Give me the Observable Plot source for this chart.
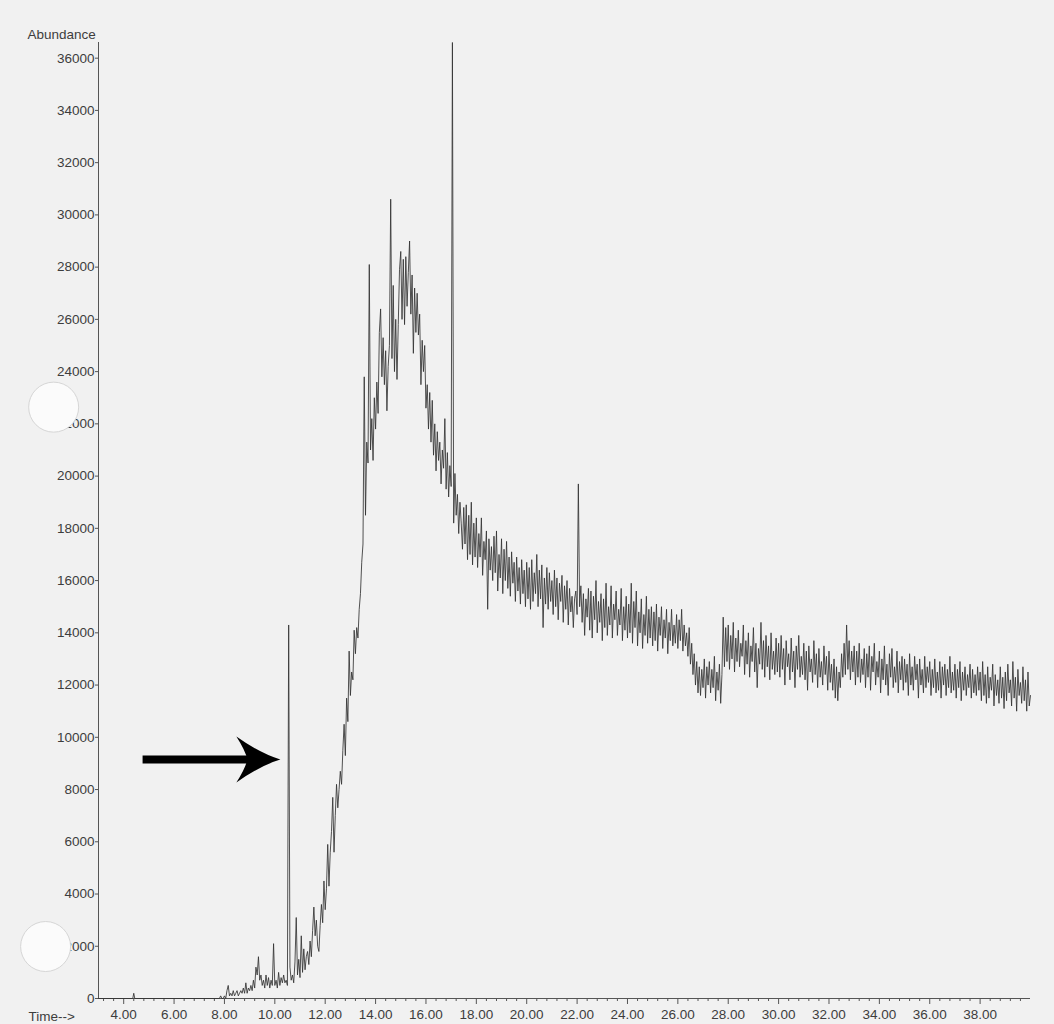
<!DOCTYPE html>
<html>
<head>
<meta charset="utf-8">
<script src="https://cdn.jsdelivr.net/npm/d3@7"></script>
<script src="https://cdn.jsdelivr.net/npm/@observablehq/plot@0.6"></script>
<style>
  html, body { margin: 0; padding: 0; background: #f1f1f1; }
  #chart svg { display: block; }
</style>
</head>
<body>
<div id="chart"></div>
<script>
// ---- axis ticks ----
const timeTicks = [4, 6, 8, 10, 12, 14, 16, 18, 20, 22, 24, 26, 28, 30, 32, 34, 36, 38];
const abundanceTicks = [0, 2000, 4000, 6000, 8000, 10000, 12000, 14000, 16000, 18000, 20000,
  22000, 24000, 26000, 28000, 30000, 32000, 34000, 36000];

// ---- total ion chromatogram (abundance vs time, min) ----
// sparse baseline before the signal starts
const baselineTimes = [3.0, 4.36, 4.40, 4.44, 7.75];
const baselineValues = [0, 0, 200, 0, 0];

// scans every 0.05 min
const scanInterval = 0.05;
const scansFrom0780 = [
  0, 100, 0, 0,
  100, 0, 300, 500, 100, 200, 100, 300, 100, 200, 300, 100, 200, 300, 200, 400, 200, 600, 200, 400,
  300, 500, 300, 700, 400, 1200, 900, 1600, 700, 900, 500, 700, 400, 900, 500, 800, 400, 700, 500, 2100,
  500, 700, 400, 1000, 500, 800, 600, 900, 600, 700, 500, 14300, 1200, 700, 900, 600, 1400, 3100, 900, 1500,
  800, 2400, 1000, 1900, 1100, 1600, 1800, 1300, 2200, 1600, 2600, 3500, 2400, 3000, 2000, 1800, 2800, 3600, 2900, 4500
];
const scansFrom1200 = [
  3400, 4200, 5900, 4300, 5600, 6400, 7700, 5600, 7000, 8200, 7300, 8000, 8700, 8200, 9500, 10500, 9300, 11500, 10600, 13300,
  11600, 12500, 12200, 14100, 13200, 14200, 13800, 14900, 15500, 16700, 17400, 23800, 18500, 21300, 20500, 28100, 21000, 22200, 20600, 23000,
  21800, 23600, 22400, 25500, 26400, 23800, 25300, 23500, 24800, 22500, 24200, 25000, 30600, 24500, 27300, 24000, 26000, 23700, 25800, 27900,
  28600, 26000, 28300, 25800, 28400, 26500, 27800, 29000, 26200, 27700, 24700, 27200, 25500, 27000, 25400, 26200, 23500, 25200, 24000, 25000
];
const scansFrom1600 = [
  22600, 23500, 21800, 23200, 21300, 22900, 20800, 22000, 20200, 21700, 20600, 21300, 19700, 21000, 20300, 22200, 19500, 20900, 19200, 20400,
  19600, 36600, 18200, 20100, 18500, 19300, 17800, 19000, 18200, 17200, 18800, 17400, 18900, 16800, 18500, 17000, 19000, 16600, 18200, 16900,
  18400, 16500, 17800, 16900, 18400, 16200, 17500, 16800, 17900, 14900, 17600, 16400, 17300, 16000, 17700, 16300, 17900, 15600, 17000, 16100,
  17600, 15500, 17200, 16000, 17500, 15700, 16900, 15400, 17100, 15900, 16700, 15200, 16900, 15600, 16500, 15100, 16800, 15500, 16400, 15000
];
const scansFrom2000 = [
  16700, 15300, 16500, 14900, 16800, 15200, 16300, 15500, 17000, 15000, 16400, 15300, 16600, 14200, 16100, 15100, 16500, 14900, 16300, 15200,
  16000, 14700, 16400, 15000, 16100, 14500, 15900, 15200, 16200, 14400, 15800, 14900, 16000, 14300, 15700, 14800, 15400, 14200, 15300, 15600,
  14700, 19700, 15000, 15800, 14400, 15500, 13900, 15300, 14600, 15700, 14100, 15600, 13800, 15400, 14500, 16000, 14000, 15200, 14400, 15500,
  13700, 15300, 14200, 15900, 13900, 15000, 14300, 15800, 13800, 15100, 14500, 15600, 13900, 14900, 14300, 15700, 13700, 15000, 14100, 15400
];
const scansFrom2400 = [
  13800, 15100, 14000, 15900, 13600, 15200, 14200, 15600, 13500, 14800, 14000, 15300, 13400, 14700, 13900, 15400, 13600, 14900, 13800, 15000,
  13500, 14800, 13700, 15100, 13300, 14600, 13900, 15000, 13400, 14500, 13800, 14900, 13200, 14400, 13700, 14900, 13500, 14300, 13600, 14700,
  13400, 14500, 13700, 14900, 13300, 14300, 13500, 14000, 13100, 14200, 12800, 13600, 12400, 13200, 12000, 12900, 11700, 12700, 11600, 12600,
  11900, 13000, 11500, 12700, 12000, 12900, 11700, 12600, 11900, 13100, 11400, 12500, 11800, 12800, 11300, 12400, 14600, 12700, 14200, 12900
];
const scansFrom2800 = [
  14300, 12600, 13900, 13000, 14400, 12500, 13800, 12900, 14100, 12700, 13600, 13100, 14300, 12400, 13700, 12800, 14000, 12300, 13500, 12900,
  14200, 12500, 13600, 11900, 13400, 12800, 14400, 12600, 13700, 12300, 13900, 12700, 13500, 12200, 14000, 12600, 13300, 12400, 13800, 12500,
  13600, 12300, 13900, 12600, 13400, 12000, 13700, 12700, 13200, 12200, 13800, 12500, 13300, 11900, 13500, 12600, 13900, 12300, 13100, 12400,
  13600, 12200, 13300, 11800, 13500, 12500, 13000, 12100, 13700, 12400, 13200, 11900, 13400, 12300, 12900, 12000, 13500, 12400, 13100, 11800
];
const scansFrom3200 = [
  13300, 12100, 12800, 11800, 13000, 11500, 12700, 11400, 12500, 11900, 13200, 12300, 13600, 12400, 14300, 12600, 13700, 12200, 13300, 12500,
  13500, 12000, 13300, 12300, 13600, 12100, 13000, 12400, 13400, 11900, 13200, 12300, 13500, 11800, 13100, 12500, 13600, 12000, 12900, 12300,
  13300, 11700, 13000, 12200, 13500, 12000, 12800, 11600, 13200, 12300, 13400, 11900, 12700, 12100, 13300, 11700, 12900, 12200, 13100, 11800,
  13000, 12100, 12800, 11600, 13200, 12000, 12700, 11800, 13100, 12200, 12800, 11500, 13000, 12000, 12600, 11700, 13100, 11900, 12700, 12100
];
const scansFrom3600 = [
  12900, 11600, 12600, 11900, 13000, 11700, 12500, 11800, 12900, 11500, 12700, 12000, 12800, 11600, 12600, 11900, 13100, 11700, 12500, 11800,
  12800, 11500, 12600, 11900, 12900, 11400, 12500, 11800, 12700, 11600, 12400, 11900, 12800, 11500, 12600, 11700, 12400, 11600, 12700, 11800,
  12500, 11400, 12900, 11600, 12400, 11300, 12700, 11500, 12300, 11800, 12800, 11200, 12400, 11600, 12200, 11300, 12700, 11500, 12300, 11100,
  12500, 11400, 12800, 11700, 12200, 11200, 12900, 11500, 12300, 11000, 12600, 11600, 12100, 11300, 12700, 11400, 12200, 11000, 12500, 11200, 11600
];

// ---- annotations (data coordinates) ----
const arrowStart = [4.75];
const arrowShaftEnd = [9.6];
const arrowTip = [10.22];
const arrowLevel = [9150];
// hole punches of the scanned sheet
const punchTimes = [1.22, 0.9];
const punchLevels = [22640, 1990];

// ---- build table ----
const segment = (start, vals) => vals.map((v, i) => ({t: +(start + i * scanInterval).toFixed(2), v}));
const scan = [
  ...baselineTimes.map((t, i) => ({t, v: baselineValues[i]})),
  ...segment(7.80, scansFrom0780),
  ...segment(12.00, scansFrom1200),
  ...segment(16.00, scansFrom1600),
  ...segment(20.00, scansFrom2000),
  ...segment(24.00, scansFrom2400),
  ...segment(28.00, scansFrom2800),
  ...segment(32.00, scansFrom3200),
  ...segment(36.00, scansFrom3600)
];
const minorTicks = d3.range(3.2, 40.01, 0.4).map(d => +d.toFixed(1)).filter(d => Math.abs(d / 2 - Math.round(d / 2)) > 1e-6);

const arrowHead = {
  draw(ctx) {
    ctx.moveTo(0, 0);
    ctx.quadraticCurveTo(-20, -6, -44, -23);
    ctx.quadraticCurveTo(-35, -9, -33, 0);
    ctx.quadraticCurveTo(-35, 9, -44, 23);
    ctx.quadraticCurveTo(-20, 6, 0, 0);
    ctx.closePath();
  }
};

const ink = "#333333";
const labelInk = "#3d3d3d";
const font = "'Liberation Sans', Arial, Helvetica, sans-serif";

const chart = Plot.plot({
  width: 1054,
  height: 1024,
  marginLeft: 98,
  marginRight: 24,
  marginTop: 42,
  marginBottom: 26,
  x: {domain: [3, 40]},
  y: {domain: [0, 36600]},
  style: {background: "#f1f1f1", fontFamily: font, fontSize: "13.5px", color: labelInk},
  marks: [
    Plot.ruleY([0], {stroke: "#555", strokeWidth: 1}),
    Plot.ruleX([3], {stroke: "#555", strokeWidth: 1}),
    Plot.axisX({ticks: minorTicks, tickSize: 3, tickFormat: () => "", label: null, stroke: "#555"}),
    Plot.axisX({ticks: timeTicks, tickSize: 6, tickPadding: 5, tickFormat: d3.format(".2f"), label: null, stroke: "#555", fontSize: 13.5}),
    Plot.axisY({ticks: abundanceTicks, tickSize: 3, tickPadding: 1, tickFormat: d3.format("d"), label: null, stroke: "#555", fontSize: 13.5}),
    Plot.line(scan, {x: "t", y: "v", stroke: ink, strokeWidth: 0.85}),
    Plot.link(arrowStart, {x1: d => d, x2: (d, i) => arrowShaftEnd[i], y1: (d, i) => arrowLevel[i], y2: (d, i) => arrowLevel[i], stroke: "black", strokeWidth: 8, strokeLinecap: "butt"}),
    Plot.dot(arrowTip, {x: d => d, y: (d, i) => arrowLevel[i], symbol: arrowHead, fill: "black", stroke: "none"}),
    Plot.dot(punchTimes, {x: d => d, y: (d, i) => punchLevels[i], r: 25, fill: "#fbfbfb", stroke: "#d6d6d6", strokeWidth: 1}),
    Plot.text(["Abundance"], {text: d => d, frameAnchor: "top-left", dx: -71, dy: -4, textAnchor: "start", lineAnchor: "bottom", fontSize: 13.5, fill: labelInk}),
    Plot.text(["Time-->"], {text: d => d, frameAnchor: "bottom-left", dx: -70, dy: 22, textAnchor: "start", lineAnchor: "bottom", fontSize: 13.5, fill: labelInk})
  ]
});
document.getElementById("chart").appendChild(chart);
</script>
</body>
</html>
